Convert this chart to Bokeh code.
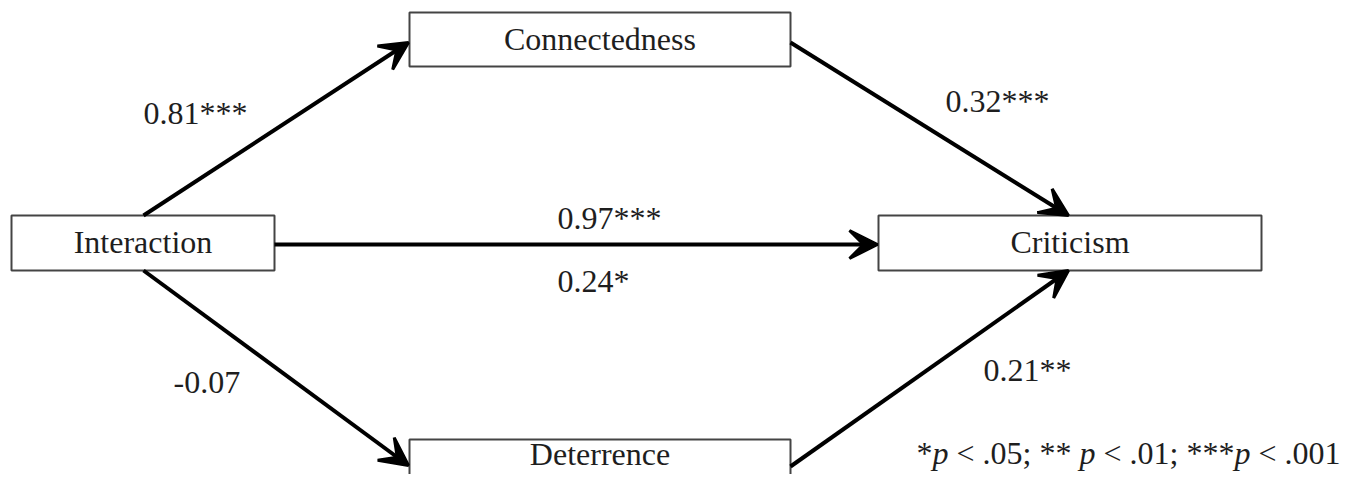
from bokeh.plotting import figure
from bokeh.models import Range1d, Arrow, VeeHead, ColumnDataSource
from bokeh.core.properties import value
from bokeh.embed import file_html
from bokeh.resources import INLINE

# ---- data ----
nodes = ["Interaction", "Connectedness", "Criticism", "Deterrence"]
path_from = ["Interaction", "Interaction", "Interaction", "Connectedness", "Deterrence"]
path_to = ["Connectedness", "Criticism", "Deterrence", "Criticism", "Criticism"]
coef_labels = ["0.81***", "0.97***", "-0.07", "0.32***", "0.21**", "0.24*"]
footnote_parts = [("*", False), ("p", True), (" < .05; ** ", False), ("p", True),
                  (" < .01; ***", False), ("p", True), (" < .001", False)]

# ---- layout (pixel coordinates of the drawing) ----
box = {  # left, right, top, bottom
    "Interaction": (11, 274, 215, 270),
    "Connectedness": (409, 790, 12, 66),
    "Criticism": (878, 1261, 215, 270),
    "Deterrence": (409, 790, 439, 500),
}
arrow_pts = {
    ("Interaction", "Connectedness"): (143, 215, 408, 42),
    ("Interaction", "Criticism"): (274, 244, 877, 244),
    ("Interaction", "Deterrence"): (143, 270, 408, 465),
    ("Connectedness", "Criticism"): (790, 42, 1068, 215),
    ("Deterrence", "Criticism"): (790, 466, 1068, 270),
}
label_pos = [(143, 123), (557, 228), (173, 393), (945, 111), (983, 380), (557, 291)]
label_x_center = {"Interaction": 142.5, "Connectedness": 599.5, "Criticism": 1069.5, "Deterrence": 599.5}
label_y_base = {"Interaction": 252, "Connectedness": 49, "Criticism": 252, "Deterrence": 464}
FOOT_BASE = 463
FOOT_RIGHT = 1340
DY = -11  # baseline correction for text rendering

FONT = "Liberation Serif"
FS = 32
TXT = "#1e1e1e"

p = figure(width=1343, height=474, x_range=Range1d(0, 1343), y_range=Range1d(474, 0),
           output_backend="svg", toolbar_location=None, min_border=0)
p.axis.visible = False
p.grid.visible = False
p.outline_line_color = None
p.background_fill_color = "white"
p.border_fill_color = "white"

# boxes
src_box = ColumnDataSource(dict(
    left=[box[n][0] for n in nodes], right=[box[n][1] for n in nodes],
    top=[box[n][2] for n in nodes], bottom=[box[n][3] for n in nodes],
    name=nodes, x=[label_x_center[n] for n in nodes], y=[label_y_base[n] + DY for n in nodes]))
p.quad(left="left", right="right", top="top", bottom="bottom", source=src_box,
       fill_color="white", line_color="#444444", line_width=2)
p.text(x="x", y="y", text="name", source=src_box, text_font=value(FONT),
       text_font_size=f"{FS}px", text_align="center", text_baseline="alphabetic", text_color=TXT)

# arrows
pts = [arrow_pts[(a, b)] for a, b in zip(path_from, path_to)]
src_arr = ColumnDataSource(dict(x0=[q[0] for q in pts], y0=[q[1] for q in pts],
                                x1=[q[2] for q in pts], y1=[q[3] for q in pts]))
p.add_layout(Arrow(source=src_arr, x_start="x0", y_start="y0", x_end="x1", y_end="y1",
                   line_width=4, line_color="black",
                   end=VeeHead(size=28, fill_color="black", line_color="black", line_width=3)))

# coefficient labels
src_lab = ColumnDataSource(dict(x=[q[0] for q in label_pos], y=[q[1] + DY for q in label_pos], t=coef_labels))
p.text(x="x", y="y", text="t", source=src_lab, text_font=value(FONT),
       text_font_size=f"{FS}px", text_align="left", text_baseline="alphabetic", text_color=TXT)

# footnote with italic p
W = {" ": .25, "<": .564, ".": .25, ";": .278, "*": .5, "p": .5}
def em(s):
    return sum(W.get(c, .5) for c in s)
total = sum(em(s) for s, _ in footnote_parts) * FS
x = FOOT_RIGHT - total
for s, it in footnote_parts:
    lead = len(s) - len(s.lstrip(" "))
    p.text(x=[x + lead * .25 * FS], y=[FOOT_BASE + DY], text=[s.strip(" ")], text_font=value(FONT),
           text_font_size=f"{FS}px", text_font_style="italic" if it else "normal",
           text_align="left", text_baseline="alphabetic", text_color=TXT)
    x += em(s) * FS

open("out.html", "w").write(file_html(p, INLINE))
